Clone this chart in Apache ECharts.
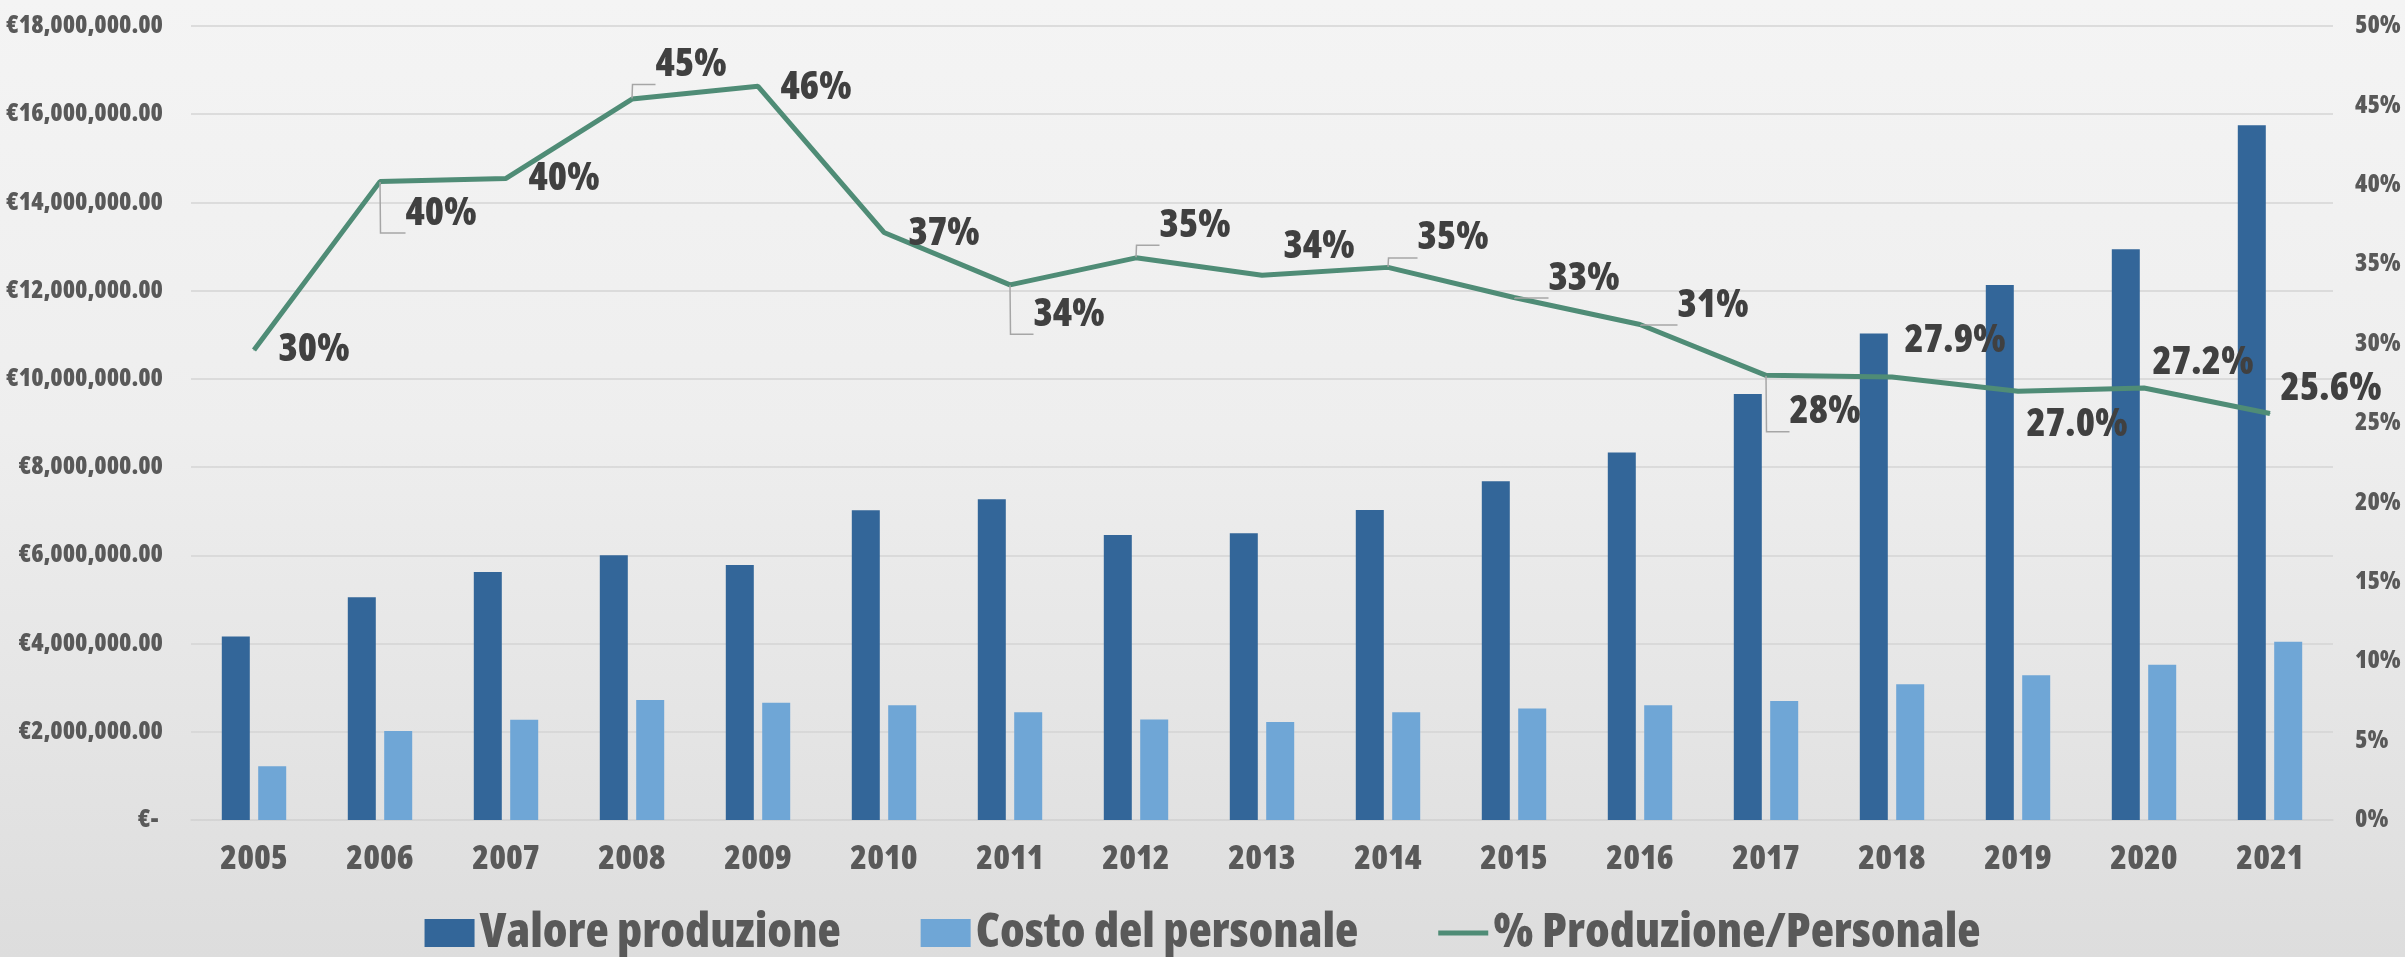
<!DOCTYPE html>
<html>
<head>
<meta charset="utf-8">
<script src="https://cdn.jsdelivr.net/npm/echarts@6/dist/echarts.min.js"></script>
<style>
html,body{margin:0;padding:0;}
body{width:2405px;height:957px;background:linear-gradient(to bottom,#f4f4f4 0%,#eeeeee 45%,#dddddd 100%);}
#chart{width:2405px;height:957px;}
</style>
</head>
<body>
<div id="chart"></div>
<script>
// ---- data ----
const years = ['2005','2006','2007','2008','2009','2010','2011','2012','2013','2014','2015','2016','2017','2018','2019','2020','2021'];
const valoreProduzione = [4160000,5050000,5620000,6000000,5780000,7020000,7270000,6460000,6500000,7030000,7680000,8330000,9660000,11030000,12130000,12940000,15750000];
const costoPersonale = [1220000,2020000,2270000,2720000,2660000,2600000,2440000,2280000,2220000,2440000,2530000,2600000,2700000,3080000,3280000,3520000,4040000];
const percentuale = [29.6,40.2,40.4,45.4,46.2,37.0,33.7,35.4,34.3,34.8,32.9,31.2,28.0,27.9,27.0,27.2,25.6];
const labelDecimals = [0,0,0,0,0,0,0,0,0,0,0,0,0,1,1,1,1];
const seriesNames = ['Valore produzione','Costo del personale','% Produzione/Personale'];

// ---- label layout (placement only) ----
const labelDx = [2,3,0,1,0,2,1,1,-1,7,12,15,1,-10,-14,-14,-12];
const labelDy = [0,32,0,-34,2,1,30,-32,-28,-29,-19,-19,37,-36,34,-25,-25];
const leader  = [0,1,0,1,0,0,1,1,0,1,1,1,1,0,0,0,0];
const LABEL_DIST = 22;

const FONT = "'Open Sans','Roboto',sans-serif";
const WEIGHT = '800 condensed';

const lineData = percentuale.map((v, i) => ({
  value: v,
  label: { offset: [labelDx[i], labelDy[i]] },
  labelLine: { show: !!leader[i], length2: LABEL_DIST + labelDx[i] }
}));

function euro(v) {
  if (v === 0) return '€- ';
  return '€' + v.toLocaleString('en-US', { minimumFractionDigits: 2, maximumFractionDigits: 2 });
}

const chart = echarts.init(document.getElementById('chart'), null, { renderer: 'canvas' });
chart.setOption({
  backgroundColor: 'transparent',
  animation: false,
  textStyle: { fontFamily: FONT },
  grid: { left: 191, right: 72, top: 26, bottom: 137, containLabel: false },
  legend: {
    data: [
      { name: seriesNames[0], icon: 'rect' },
      { name: seriesNames[1], icon: 'rect' },
      { name: seriesNames[2], icon: 'path://M0,0 L50,0 L50,5 L0,5 Z' }
    ],
    left: 'center',
    top: 904,
    itemWidth: 50,
    itemHeight: 28,
    itemGap: 80,
    textStyle: { fontSize: 48, fontWeight: WEIGHT, color: '#595959', fontFamily: FONT }
  },
  xAxis: {
    type: 'category',
    data: years,
    axisTick: { show: false },
    axisLine: { show: true, lineStyle: { color: '#d4d4d4', width: 1.5 } },
    axisLabel: { fontSize: 34, fontWeight: WEIGHT, color: '#595959', margin: 22, fontFamily: FONT }
  },
  yAxis: [
    {
      type: 'value', min: 0, max: 18000000, interval: 2000000,
      axisLine: { show: false }, axisTick: { show: false },
      splitLine: { lineStyle: { color: '#d4d4d4', width: 1.5 } },
      axisLabel: { formatter: euro, fontSize: 25, fontWeight: WEIGHT, color: '#595959', margin: 28, fontFamily: FONT }
    },
    {
      type: 'value', min: 0, max: 50, interval: 5, position: 'right',
      axisLine: { show: false }, axisTick: { show: false },
      splitLine: { show: false },
      axisLabel: { formatter: '{value}%', fontSize: 25, fontWeight: WEIGHT, color: '#595959', margin: 22, fontFamily: FONT }
    }
  ],
  series: [
    {
      name: seriesNames[0], type: 'bar', data: valoreProduzione,
      barWidth: 28, barGap: '30%',
      itemStyle: { color: '#336699' }
    },
    {
      name: seriesNames[1], type: 'bar', data: costoPersonale,
      barWidth: 28,
      itemStyle: { color: '#6fa6d6' }
    },
    {
      name: seriesNames[2], type: 'line', yAxisIndex: 1, data: lineData,
      symbol: 'circle', symbolSize: 1, showSymbol: true,
      lineStyle: { color: '#4f8c76', width: 5 },
      itemStyle: { color: '#4f8c76' },
      z: 5,
      label: {
        show: true, position: 'right', distance: LABEL_DIST,
        fontSize: 39, fontWeight: WEIGHT, color: '#404040', fontFamily: FONT,
        formatter: p => percentuale[p.dataIndex].toFixed(labelDecimals[p.dataIndex]) + '%'
      },
      labelLine: { lineStyle: { color: '#a6a6a6', width: 1.5 } }
    }
  ]
});
</script>
</body>
</html>
